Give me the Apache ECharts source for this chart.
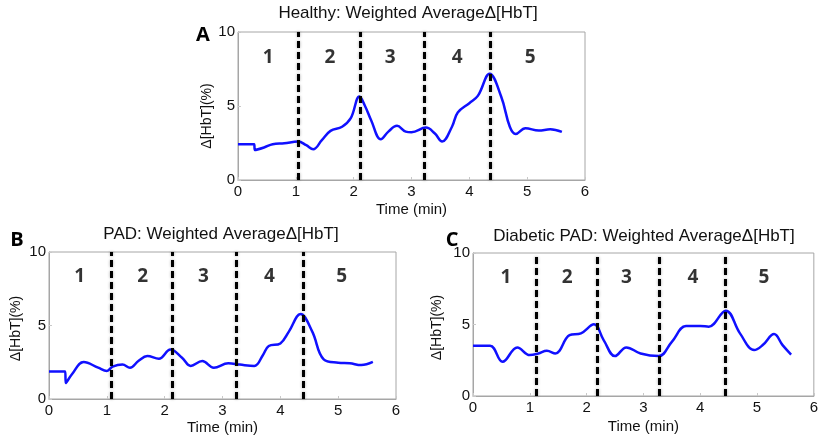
<!DOCTYPE html>
<html>
<head>
<meta charset="utf-8">
<script src="https://cdn.jsdelivr.net/npm/echarts@6/dist/echarts.min.js"></script>
<style>
  html, body { margin: 0; padding: 0; background: #fff; }
  #main { width: 821px; height: 436px; }
</style>
</head>
<body>
<div id="main"></div>
<script>
// panel A - healthy
const timeA = [0, 0.28, 0.29, 0.45, 0.6, 0.8, 1.04, 1.18, 1.3, 1.45, 1.6, 1.8, 1.95, 2.1, 2.2, 2.3, 2.47, 2.6, 2.75, 2.9, 3.0, 3.25, 3.4, 3.53, 3.7, 3.8, 4.0, 4.15, 4.35, 4.55, 4.7, 4.8, 4.97, 5.2, 5.4, 5.6];
const hbtA = [2.42, 2.42, 2.03, 2.2, 2.42, 2.48, 2.6, 2.35, 2.08, 2.7, 3.32, 3.6, 4.18, 5.64, 4.97, 4.06, 2.75, 3.27, 3.66, 3.27, 3.23, 3.54, 3.16, 2.6, 3.6, 4.56, 5.19, 5.7, 7.18, 5.64, 3.6, 3.11, 3.5, 3.34, 3.43, 3.25];
const phaseA = [1.04, 2.11, 3.22, 4.37];
const numPosA = [0.52, 1.59, 2.63, 3.79, 5.05];

// panel B - PAD
const timeB = [0, 0.28, 0.29, 0.4, 0.6, 0.85, 1.0, 1.1, 1.27, 1.4, 1.55, 1.7, 1.9, 2.1, 2.3, 2.45, 2.65, 2.85, 3.1, 3.3, 3.55, 3.7, 3.8, 4.0, 4.15, 4.35, 4.55, 4.75, 5.0, 5.2, 5.4, 5.6];
const hbtB = [1.87, 1.87, 1.08, 1.7, 2.52, 2.13, 1.91, 2.2, 2.34, 2.13, 2.6, 2.92, 2.74, 3.37, 2.81, 2.25, 2.58, 2.13, 2.43, 2.34, 2.25, 3.0, 3.6, 3.78, 4.6, 5.78, 4.6, 2.7, 2.47, 2.43, 2.31, 2.52];
const phaseB = [1.08, 2.13, 3.24, 4.40];
const numPosB = [0.53, 1.62, 2.67, 3.81, 5.06];

// panel C - diabetic PAD
const timeC = [0, 0.3, 0.52, 0.78, 1.0, 1.15, 1.3, 1.45, 1.7, 1.9, 2.13, 2.3, 2.5, 2.7, 2.95, 3.27, 3.5, 3.75, 4.0, 4.15, 4.45, 4.7, 4.95, 5.1, 5.3, 5.45, 5.6];
const hbtC = [3.51, 3.51, 2.39, 3.4, 2.86, 2.97, 3.16, 2.97, 4.26, 4.38, 5.01, 3.91, 2.79, 3.4, 2.97, 2.79, 3.79, 4.89, 4.9, 4.85, 5.97, 4.38, 3.21, 3.56, 4.33, 3.56, 2.9];
const phaseC = [1.12, 2.18, 3.28, 4.44];
const numPosC = [0.58, 1.66, 2.70, 3.87, 5.12];

const phaseNames = ['1', '2', '3', '4', '5'];
const numY = 8.3;

const titles = ['Healthy: Weighted AverageΔ[HbT]', 'PAD: Weighted AverageΔ[HbT]', 'Diabetic PAD: Weighted AverageΔ[HbT]'];
const letters = ['A', 'B', 'C'];

const FONT = '"Liberation Sans", Arial, sans-serif';
const BOLD = '"Open Sans", "Liberation Sans", sans-serif';

const panels = [
    { t: timeA, v: hbtA, ph: phaseA, np: numPosA, grid: { left: 238, top: 32, width: 347, height: 148 }, nameGapY: 20, nameGapX: 22, namePad: [0, 20, 0, 0],
      title: [408, 13], letter: [203, 35] },
    { t: timeB, v: hbtB, ph: phaseB, np: numPosB, grid: { left: 49, top: 252, width: 347, height: 148 }, nameGapY: 26, nameGapX: 21, namePad: [0, 6, 0, 0],
      title: [221, 234], letter: [17, 240] },
    { t: timeC, v: hbtC, ph: phaseC, np: numPosC, grid: { left: 473, top: 253, width: 346, height: 143 }, nameGapY: 29, nameGapX: 23, namePad: [0, 6, 0, 0],
      title: [644, 236], letter: [452, 240] }
];

const grids = [], xAxes = [], yAxes = [], series = [], graphics = [];

panels.forEach((p, i) => {
    grids.push(Object.assign({ show: true, borderColor: '#a6a6a6', borderWidth: 1, backgroundColor: '#fff' }, p.grid));
    xAxes.push({
        gridIndex: i, type: 'value', min: 0, max: 6, interval: 1,
        name: 'Time (min)', nameLocation: 'middle', nameGap: p.nameGapX,
        nameTextStyle: { fontFamily: FONT, fontSize: 15, color: '#111' },
        axisLine: { show: true, lineStyle: { color: '#a6a6a6' } },
        axisTick: { show: true, inside: true, length: 3, lineStyle: { color: '#c8c8c8' } },
        axisLabel: { fontFamily: FONT, fontSize: 15, color: '#111', margin: 4 },
        splitLine: { show: false }
    });
    yAxes.push({
        gridIndex: i, type: 'value', min: 0, max: 10, interval: 5,
        name: 'Δ[HbT](%)', nameLocation: 'middle', nameGap: p.nameGapY,
        nameTextStyle: { fontFamily: FONT, fontSize: 14, color: '#111', padding: p.namePad },
        axisLine: { show: true, lineStyle: { color: '#a6a6a6' } },
        axisTick: { show: true, inside: true, length: 3, lineStyle: { color: '#c8c8c8' } },
        axisLabel: { fontFamily: FONT, fontSize: 15, color: '#111', margin: 3 },
        splitLine: { show: false }
    });
    series.push({
        type: 'line', xAxisIndex: i, yAxisIndex: i,
        data: p.t.map((x, k) => [x, p.v[k]]),
        smooth: 0.4, showSymbol: false, silent: true,
        lineStyle: { color: '#1010ff', width: 2.5 },
        z: 3,
        markLine: {
            silent: true, symbol: ['none', 'none'], label: { show: false },
            lineStyle: { color: '#000', type: [7, 4], width: 3, shadowColor: 'rgba(0,0,0,0.35)', shadowBlur: 3 },
            data: p.ph.map(x => ({ xAxis: x }))
        }
    });
    series.push({
        type: 'scatter', xAxisIndex: i, yAxisIndex: i,
        data: p.np.map((x, k) => ({ value: [x, numY], name: phaseNames[k] })),
        symbolSize: 0, silent: true,
        label: {
            show: true, position: 'inside', formatter: '{b}',
            fontFamily: BOLD, fontWeight: 'bold', fontSize: 19, color: '#000'
        }
    });
    graphics.push({
        type: 'text', x: p.title[0], y: p.title[1],
        style: { text: titles[i], font: '17px ' + FONT, fill: '#111', textAlign: 'center', textVerticalAlign: 'middle' }
    });
    graphics.push({
        type: 'text', x: p.letter[0], y: p.letter[1],
        style: { text: letters[i], font: 'bold 20px ' + BOLD, fill: '#000', textAlign: 'center', textVerticalAlign: 'middle' }
    });
});

const myChart = echarts.init(document.getElementById('main'));
myChart.setOption({
    animation: false,
    grid: grids,
    xAxis: xAxes,
    yAxis: yAxes,
    series: series,
    graphic: graphics
});
</script>
</body>
</html>
